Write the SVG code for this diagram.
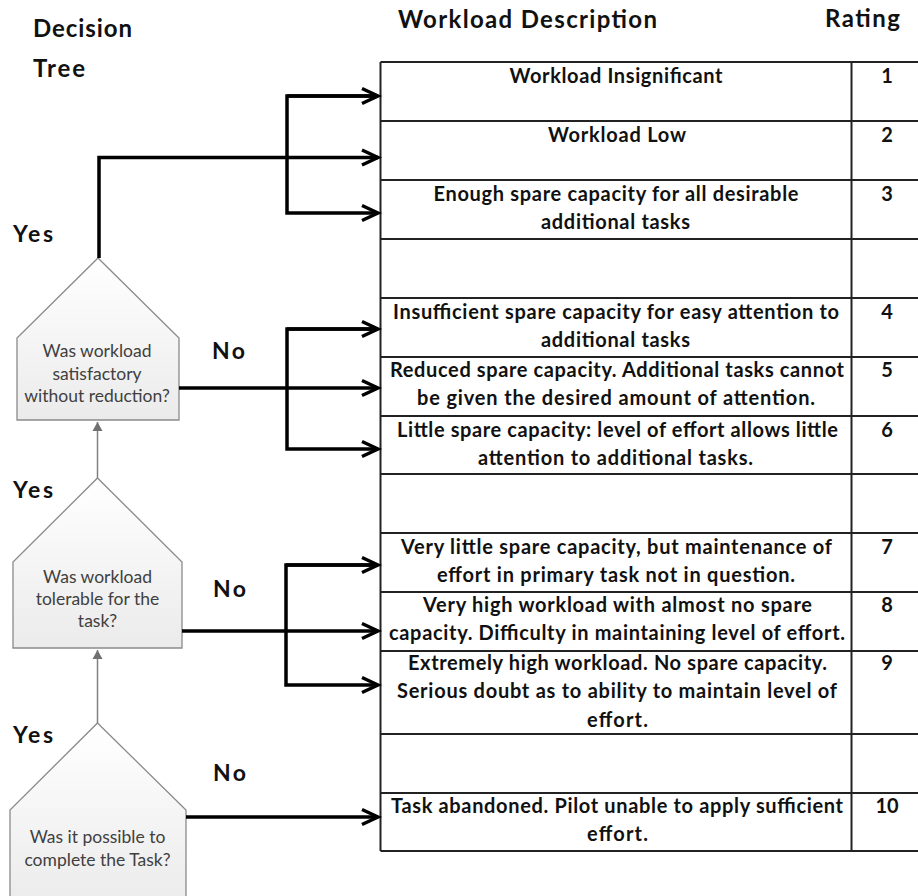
<svg xmlns="http://www.w3.org/2000/svg" width="918" height="896" viewBox="0 0 918 896">
<style>
.hdr{font-family:Lato,"Open Sans","Liberation Sans",sans-serif;font-weight:bold;font-size:24px;fill:#111}
.lbl{font-family:Lato,"Open Sans","Liberation Sans",sans-serif;font-weight:bold;font-size:23px;fill:#111}
.cell{font-family:Lato,"Open Sans","Liberation Sans",sans-serif;font-weight:bold;font-size:20px;fill:#111;text-anchor:middle}
.q{font-family:Lato,"Open Sans","Liberation Sans",sans-serif;font-size:17.5px;fill:#404040;text-anchor:middle}
.shape{fill:url(#g);stroke:#8a8a8a;stroke-width:1.3}
.tl{stroke:#222;stroke-width:2;fill:none}
.con{stroke:#000;stroke-width:3.5;fill:none}
.gcon{stroke:#808080;stroke-width:1.5;fill:none}
</style>
<defs>
<linearGradient id="g" x1="0" y1="0" x2="0" y2="1">
<stop offset="0" stop-color="#ffffff"/>
<stop offset="1" stop-color="#ebebeb"/>
</linearGradient>
<marker id="oa" markerUnits="userSpaceOnUse" viewBox="-22 -12 26 24" markerWidth="26" markerHeight="24" refX="0" refY="0" orient="auto">
<path d="M-16,-7.5 L0,0 L-16,7.5" fill="none" stroke="#000" stroke-width="3.5" stroke-linejoin="miter"/>
</marker>
<marker id="ga" markerUnits="userSpaceOnUse" viewBox="-12 -7 14 14" markerWidth="14" markerHeight="14" refX="0" refY="0" orient="auto">
<path d="M-9,-5 L0,0 L-9,5 Z" fill="#707070"/>
</marker>
</defs>
<rect width="918" height="896" fill="#fff"/>

<g id="headers">
<text class="hdr" x="33" y="37" textLength="99">Decision</text>
<text class="hdr" x="33" y="77" textLength="52">Tree</text>
<text class="hdr" x="398" y="28" textLength="259">Workload Description</text>
<text class="hdr" x="825" y="27" textLength="75">Rating</text>
</g>

<g id="table">
<path class="tl" d="M380.5,62 H930 M380.5,121 H930 M380.5,180 H930 M380.5,239 H930 M380.5,298 H930 M380.5,357 H930 M380.5,416 H930 M380.5,474 H930 M380.5,533 H930 M380.5,592 H930 M380.5,651 H930 M380.5,734 H930 M380.5,793 H930 M380.5,851 H930 M380.5,62 V851 M851.5,62 V851"/>
<text class="cell" x="616" y="83" textLength="213">Workload Insignificant</text>
<text class="cell" x="887" y="83">1</text>
<text class="cell" x="617" y="142" textLength="138">Workload Low</text>
<text class="cell" x="887" y="142">2</text>
<text class="cell" x="616" y="201" textLength="365">Enough spare capacity for all desirable</text>
<text class="cell" x="615.5" y="229" textLength="149">additional tasks</text>
<text class="cell" x="887" y="201">3</text>
<text class="cell" x="616" y="319" textLength="446">Insufficient spare capacity for easy attention to</text>
<text class="cell" x="615.5" y="347" textLength="149">additional tasks</text>
<text class="cell" x="887" y="319">4</text>
<text class="cell" x="617" y="377" textLength="454">Reduced spare capacity. Additional tasks cannot</text>
<text class="cell" x="616" y="405" textLength="398">be given the desired amount of attention.</text>
<text class="cell" x="887" y="377">5</text>
<text class="cell" x="617.5" y="437" textLength="441">Little spare capacity: level of effort allows little</text>
<text class="cell" x="615.5" y="465" textLength="275">attention to additional tasks.</text>
<text class="cell" x="887" y="437">6</text>
<text class="cell" x="616.5" y="554" textLength="431">Very little spare capacity, but maintenance of</text>
<text class="cell" x="616" y="582" textLength="358">effort in primary task not in question.</text>
<text class="cell" x="887" y="554">7</text>
<text class="cell" x="617.5" y="612" textLength="389">Very high workload with almost no spare</text>
<text class="cell" x="617" y="640" textLength="456">capacity. Difficulty in maintaining level of effort.</text>
<text class="cell" x="887" y="612">8</text>
<text class="cell" x="617.5" y="670" textLength="419">Extremely high workload. No spare capacity.</text>
<text class="cell" x="617" y="698" textLength="440">Serious doubt as to ability to maintain level of</text>
<text class="cell" x="617.5" y="727" textLength="61">effort.</text>
<text class="cell" x="887" y="670">9</text>
<text class="cell" x="617" y="813" textLength="452">Task abandoned. Pilot unable to apply sufficient</text>
<text class="cell" x="617.5" y="841" textLength="61">effort.</text>
<text class="cell" x="887" y="813">10</text>
</g>

<g id="q1">
<polygon class="shape" points="98,258 179,338 179,420 17,420 17,338"/>
<text class="q" x="97" y="357">Was workload</text>
<text class="q" x="97" y="380">satisfactory</text>
<text class="q" x="97" y="402">without reduction?</text>
</g>
<g id="q2">
<polygon class="shape" points="97.5,478 182,562 182,648 13,648 13,562"/>
<text class="q" x="97.5" y="583">Was workload</text>
<text class="q" x="97.5" y="605">tolerable for the</text>
<text class="q" x="97.5" y="627">task?</text>
</g>
<g id="q3">
<polygon class="shape" points="97.5,723 186,810 186,905 10,905 10,810"/>
<text class="q" x="97.5" y="843">Was it possible to</text>
<text class="q" x="97.5" y="866">complete the Task?</text>
</g>

<g id="labels">
<text class="lbl" x="13" y="242" textLength="40">Yes</text>
<text class="lbl" x="13" y="498" textLength="40">Yes</text>
<text class="lbl" x="13" y="743" textLength="40">Yes</text>
<text class="lbl" x="212" y="359" textLength="33">No</text>
<text class="lbl" x="213" y="597" textLength="33">No</text>
<text class="lbl" x="213" y="781" textLength="33">No</text>
</g>

<g id="connectors">
<path class="gcon" d="M97.5,723 V650" marker-end="url(#ga)"/>
<path class="gcon" d="M97.5,478 V422" marker-end="url(#ga)"/>
<path class="con" d="M99,258 V157.5 H378" marker-end="url(#oa)"/>
<path class="con" d="M287,96 H378" marker-end="url(#oa)"/>
<path class="con" d="M378,96 H287 V213 H378" marker-end="url(#oa)"/>
<path class="con" d="M179,388 H378" marker-end="url(#oa)"/>
<path class="con" d="M287,329 H378" marker-end="url(#oa)"/>
<path class="con" d="M378,329 H287 V449 H378" marker-end="url(#oa)"/>
<path class="con" d="M182,631 H378" marker-end="url(#oa)"/>
<path class="con" d="M286,565 H378" marker-end="url(#oa)"/>
<path class="con" d="M378,565 H286 V685 H378" marker-end="url(#oa)"/>
<path class="con" d="M186,817 H378" marker-end="url(#oa)"/>
</g>
</svg>
